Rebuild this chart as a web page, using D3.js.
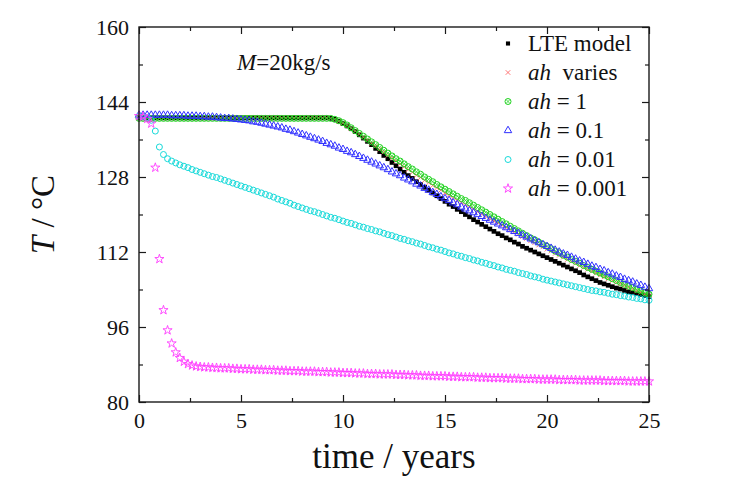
<!DOCTYPE html>
<html>
<head>
<meta charset="utf-8">
<script src="https://cdn.jsdelivr.net/npm/d3@7"></script>
<style>
  html, body { margin: 0; padding: 0; background: #fff; }
  svg { display: block; font-family: "Times New Roman", "Liberation Serif", serif; }
</style>
</head>
<body>
<svg id="chart" width="739" height="484"></svg>
<script>
// Sampling times (years)
const years = [
  0, 0.2, 0.4, 0.6, 0.8, 1, 1.2, 1.4, 1.6, 1.8,
  2, 2.2, 2.4, 2.6, 2.8, 3, 3.2, 3.4, 3.6, 3.8,
  4, 4.2, 4.4, 4.6, 4.8, 5, 5.2, 5.4, 5.6, 5.8,
  6, 6.2, 6.4, 6.6, 6.8, 7, 7.2, 7.4, 7.6, 7.8,
  8, 8.2, 8.4, 8.6, 8.8, 9, 9.2, 9.4, 9.6, 9.8,
  10, 10.2, 10.4, 10.6, 10.8, 11, 11.2, 11.4, 11.6, 11.8,
  12, 12.2, 12.4, 12.6, 12.8, 13, 13.2, 13.4, 13.6, 13.8,
  14, 14.2, 14.4, 14.6, 14.8, 15, 15.2, 15.4, 15.6, 15.8,
  16, 16.2, 16.4, 16.6, 16.8, 17, 17.2, 17.4, 17.6, 17.8,
  18, 18.2, 18.4, 18.6, 18.8, 19, 19.2, 19.4, 19.6, 19.8,
  20, 20.2, 20.4, 20.6, 20.8, 21, 21.2, 21.4, 21.6, 21.8,
  22, 22.2, 22.4, 22.6, 22.8, 23, 23.2, 23.4, 23.6, 23.8,
  24, 24.2, 24.4, 24.6, 24.8, 25
];

// Outlet temperature (°C), LTE model
const tLTE = [
  140.6, 140.6, 140.6, 140.6, 140.6, 140.6, 140.6, 140.6, 140.6, 140.6,
  140.6, 140.6, 140.6, 140.6, 140.6, 140.6, 140.6, 140.6, 140.6, 140.6,
  140.6, 140.6, 140.6, 140.6, 140.6, 140.6, 140.6, 140.6, 140.6, 140.6,
  140.6, 140.6, 140.6, 140.6, 140.6, 140.6, 140.6, 140.6, 140.6, 140.6,
  140.6, 140.6, 140.6, 140.6, 140.6, 140.6, 140.6, 140.5, 140.3, 139.9,
  139.4, 138.9, 138.3, 137.7, 137.0, 136.3, 135.6, 134.9, 134.1, 133.4,
  132.6, 131.9, 131.1, 130.4, 129.7, 129.0, 128.3, 127.7, 127.0, 126.4,
  125.8, 125.2, 124.6, 124.0, 123.4, 122.8, 122.2, 121.7, 121.1, 120.6,
  120.0, 119.5, 118.9, 118.4, 117.9, 117.4, 116.9, 116.4, 115.9, 115.5,
  115.0, 114.6, 114.1, 113.7, 113.2, 112.8, 112.4, 112.0, 111.6, 111.2,
  110.8, 110.4, 110.0, 109.6, 109.2, 108.8, 108.4, 108.0, 107.6, 107.1,
  106.7, 106.3, 105.9, 105.5, 105.2, 104.9, 104.6, 104.3, 104.1, 103.8,
  103.5, 103.3, 103.1, 102.9, 102.7, 102.5
];

// ah varies
const tVaries = [
  140.6, 140.6, 140.6, 140.6, 140.6, 140.6, 140.6, 140.6, 140.6, 140.6,
  140.6, 140.6, 140.6, 140.6, 140.6, 140.6, 140.6, 140.6, 140.6, 140.6,
  140.6, 140.6, 140.6, 140.6, 140.6, 140.6, 140.6, 140.6, 140.6, 140.6,
  140.6, 140.6, 140.6, 140.6, 140.6, 140.6, 140.6, 140.6, 140.6, 140.6,
  140.6, 140.6, 140.6, 140.6, 140.6, 140.6, 140.6, 140.5, 140.3, 139.9,
  139.5, 139.0, 138.4, 137.8, 137.2, 136.5, 135.9, 135.2, 134.6, 133.9,
  133.3, 132.6, 132.0, 131.4, 130.8, 130.2, 129.6, 129.0, 128.4, 127.9,
  127.3, 126.8, 126.2, 125.7, 125.2, 124.6, 124.1, 123.6, 123.1, 122.6,
  122.1, 121.6, 121.1, 120.6, 120.1, 119.6, 119.1, 118.6, 118.2, 117.7,
  117.2, 116.7, 116.3, 115.8, 115.3, 114.9, 114.4, 114.0, 113.5, 113.1,
  112.6, 112.2, 111.7, 111.3, 110.9, 110.4, 110.0, 109.6, 109.1, 108.7,
  108.3, 107.9, 107.5, 107.1, 106.7, 106.3, 105.9, 105.5, 105.2, 104.8,
  104.4, 104.1, 103.7, 103.4, 103.0, 102.7
];

// ah = 1
const tAh1 = [
  140.5, 140.5, 140.5, 140.5, 140.5, 140.5, 140.5, 140.5, 140.5, 140.5,
  140.5, 140.5, 140.5, 140.5, 140.5, 140.5, 140.5, 140.5, 140.5, 140.5,
  140.5, 140.5, 140.5, 140.5, 140.5, 140.5, 140.5, 140.5, 140.5, 140.5,
  140.5, 140.5, 140.5, 140.5, 140.5, 140.5, 140.5, 140.5, 140.5, 140.5,
  140.5, 140.5, 140.5, 140.5, 140.5, 140.5, 140.5, 140.5, 140.3, 140.0,
  139.6, 139.1, 138.5, 137.9, 137.3, 136.7, 136.1, 135.5, 134.9, 134.3,
  133.7, 133.1, 132.5, 131.9, 131.4, 130.8, 130.2, 129.7, 129.1, 128.6,
  128.0, 127.5, 127.0, 126.4, 125.9, 125.4, 124.9, 124.4, 123.9, 123.4,
  123.0, 122.5, 122.0, 121.5, 121.0, 120.5, 120.0, 119.5, 119.0, 118.5,
  118.0, 117.5, 117.0, 116.5, 116.0, 115.5, 115.0, 114.6, 114.1, 113.6,
  113.2, 112.7, 112.2, 111.8, 111.3, 110.9, 110.4, 110.0, 109.6, 109.1,
  108.7, 108.3, 107.9, 107.5, 107.1, 106.7, 106.3, 105.9, 105.5, 105.1,
  104.7, 104.4, 104.0, 103.7, 103.3, 103.0
];

// ah = 0.1
const tAh01 = [
  141.2, 141.2, 141.2, 141.2, 141.2, 141.2, 141.2, 141.2, 141.1, 141.1,
  141.1, 141.1, 141.0, 141.0, 141.0, 140.9, 140.9, 140.8, 140.8, 140.7,
  140.6, 140.5, 140.5, 140.4, 140.3, 140.2, 140.1, 140.0, 139.8, 139.7,
  139.5, 139.3, 139.1, 138.9, 138.7, 138.5, 138.2, 138.0, 137.7, 137.4,
  137.1, 136.8, 136.5, 136.2, 135.9, 135.6, 135.2, 134.9, 134.6, 134.2,
  133.9, 133.5, 133.2, 132.8, 132.4, 132.0, 131.6, 131.2, 130.8, 130.4,
  130.0, 129.6, 129.1, 128.7, 128.3, 127.8, 127.4, 127.0, 126.5, 126.1,
  125.6, 125.2, 124.7, 124.3, 123.8, 123.4, 123.0, 122.5, 122.1, 121.6,
  121.2, 120.8, 120.4, 120.0, 119.6, 119.2, 118.8, 118.4, 118.0, 117.6,
  117.2, 116.8, 116.4, 116.0, 115.6, 115.2, 114.8, 114.4, 114.0, 113.6,
  113.2, 112.8, 112.4, 112.0, 111.6, 111.3, 110.9, 110.5, 110.1, 109.8,
  109.4, 109.0, 108.7, 108.3, 108.0, 107.6, 107.3, 106.9, 106.6, 106.2,
  105.9, 105.6, 105.2, 104.9, 104.5, 104.2
];

// ah = 0.01
const tAh001 = [
  141.0, 140.9, 140.7, 140.1, 137.8, 134.4, 132.8, 131.9, 131.4, 131.0,
  130.6, 130.3, 130.0, 129.6, 129.3, 129.0, 128.7, 128.4, 128.1, 127.9,
  127.6, 127.3, 127.0, 126.7, 126.4, 126.1, 125.8, 125.5, 125.2, 124.9,
  124.6, 124.3, 124.0, 123.7, 123.3, 123.0, 122.7, 122.4, 122.0, 121.7,
  121.4, 121.1, 120.8, 120.6, 120.3, 120.0, 119.7, 119.4, 119.2, 118.9,
  118.6, 118.3, 118.1, 117.8, 117.5, 117.3, 117.0, 116.8, 116.5, 116.3,
  116.0, 115.7, 115.5, 115.2, 114.9, 114.7, 114.4, 114.2, 113.9, 113.7,
  113.4, 113.1, 112.9, 112.6, 112.4, 112.1, 111.8, 111.6, 111.3, 111.1,
  110.8, 110.6, 110.3, 110.1, 109.8, 109.6, 109.3, 109.1, 108.8, 108.6,
  108.3, 108.1, 107.9, 107.6, 107.4, 107.2, 106.9, 106.7, 106.5, 106.2,
  106.0, 105.8, 105.6, 105.4, 105.2, 105.0, 104.8, 104.6, 104.4, 104.2,
  104.0, 103.8, 103.7, 103.5, 103.4, 103.2, 103.0, 102.9, 102.7, 102.6,
  102.4, 102.3, 102.1, 102.0, 101.8, 101.7
];

// ah = 0.001
const tAh0001 = [
  141.0, 140.9, 140.4, 139.4, 130.0, 110.5, 99.6, 95.3, 92.5, 90.6,
  89.4, 88.6, 88.1, 87.8, 87.6, 87.5, 87.4, 87.4, 87.3, 87.3,
  87.2, 87.2, 87.2, 87.1, 87.1, 87.0, 87.0, 87.0, 86.9, 86.9,
  86.9, 86.8, 86.8, 86.8, 86.7, 86.7, 86.7, 86.6, 86.6, 86.6,
  86.5, 86.5, 86.5, 86.5, 86.4, 86.4, 86.4, 86.3, 86.3, 86.3,
  86.2, 86.2, 86.2, 86.1, 86.1, 86.1, 86.0, 86.0, 86.0, 85.9,
  85.9, 85.9, 85.9, 85.8, 85.8, 85.8, 85.7, 85.7, 85.7, 85.6,
  85.6, 85.6, 85.5, 85.5, 85.5, 85.5, 85.4, 85.4, 85.4, 85.3,
  85.3, 85.3, 85.3, 85.2, 85.2, 85.2, 85.1, 85.1, 85.1, 85.1,
  85.0, 85.0, 85.0, 85.0, 84.9, 84.9, 84.9, 84.9, 84.8, 84.8,
  84.8, 84.8, 84.8, 84.7, 84.7, 84.7, 84.7, 84.7, 84.6, 84.6,
  84.6, 84.6, 84.6, 84.6, 84.5, 84.5, 84.5, 84.5, 84.5, 84.5,
  84.4, 84.4, 84.4, 84.4, 84.4, 84.4
];

const xMajorTicks = [0, 5, 10, 15, 20, 25];
const xMinorTicks = [2.5, 7.5, 12.5, 17.5, 22.5];
const yMajorTicks = [80, 96, 112, 128, 144, 160];
const yMinorTicks = [88, 104, 120, 136, 152];

const seriesList = [
  { key: "lte",    label: [["LTE model", false]],              values: tLTE,    shape: "square",   color: "#000000" },
  { key: "varies", label: [["ah", true], ["  varies", false]], values: tVaries, shape: "cross",    color: "#ff6a6a" },
  { key: "ah1",    label: [["ah", true], [" = 1", false]],     values: tAh1,    shape: "xcircle",  color: "#22d422" },
  { key: "ah01",   label: [["ah", true], [" = 0.1", false]],   values: tAh01,   shape: "triangle", color: "#3030ff" },
  { key: "ah001",  label: [["ah", true], [" = 0.01", false]],  values: tAh001,  shape: "circle",   color: "#18dada" },
  { key: "ah0001", label: [["ah", true], [" = 0.001", false]], values: tAh0001, shape: "star",     color: "#ff3cff" }
];

const svg = d3.select("#chart");
const frameColor = "#1a1a1a";

const x = d3.scaleLinear().domain([0, 25]).range([139, 649]);
const y = d3.scaleLinear().domain([80, 160]).range([402, 27]);

// Marker shapes
const symTri = d3.symbol(d3.symbolTriangle, 24)();
const symStar = d3.symbol(d3.symbolStar, 26)();
const symSquare = d3.symbol(d3.symbolSquare, 22)();
const symSquareKey = d3.symbol(d3.symbolSquare, 17)();

function drawMarker(sel, shape, color, isKey) {
  if (shape === "square") {
    sel.append("path").attr("d", isKey ? symSquareKey : symSquare).attr("fill", color);
  } else if (shape === "cross") {
    sel.append("path").attr("d", "M-2.3,-2.3L2.3,2.3M-2.3,2.3L2.3,-2.3")
      .attr("stroke", color).attr("stroke-width", 0.9).attr("fill", "none");
  } else if (shape === "xcircle") {
    sel.append("circle").attr("r", 3).attr("fill", "none")
      .attr("stroke", color).attr("stroke-width", 1);
    sel.append("path").attr("d", "M-2.1,-2.1L2.1,2.1M-2.1,2.1L2.1,-2.1")
      .attr("stroke", color).attr("stroke-width", 0.8).attr("fill", "none");
  } else if (shape === "triangle") {
    sel.append("path").attr("d", symTri).attr("fill", "none")
      .attr("stroke", color).attr("stroke-width", 1);
  } else if (shape === "circle") {
    sel.append("circle").attr("r", 3).attr("fill", "none")
      .attr("stroke", color).attr("stroke-width", 1);
  } else if (shape === "star") {
    sel.append("path").attr("d", symStar).attr("fill", "none")
      .attr("stroke", color).attr("stroke-width", 0.9);
  }
}

// Data series
const plot = svg.append("g").attr("class", "series");
seriesList.forEach(s => {
  const pts = years.map((t, i) => ({ t, v: s.values[i] }));
  const g = plot.append("g").attr("class", "series-" + s.key);
  g.selectAll("g.pt").data(pts).join("g")
    .attr("class", "pt")
    .attr("transform", d => `translate(${x(d.t)},${y(d.v)})`)
    .each(function () { drawMarker(d3.select(this), s.shape, s.color, false); });
});

// Axes: ticks point inward on all four sides
function styleAxis(g) {
  g.attr("font-family", null).attr("font-size", null).attr("color", frameColor);
  g.selectAll(".domain").remove();
  g.selectAll("line").attr("stroke-width", 1.2);
  g.selectAll("text").attr("font-size", 22).attr("fill", "#111");
}

svg.append("g").attr("transform", "translate(0,402)")
  .call(d3.axisBottom(x).tickValues(xMajorTicks).tickSize(-7).tickPadding(10).tickFormat(d3.format("d")))
  .call(styleAxis);
svg.append("g").attr("transform", "translate(0,402)")
  .call(d3.axisBottom(x).tickValues(xMinorTicks).tickSize(-4).tickFormat(""))
  .call(styleAxis);
svg.append("g").attr("transform", "translate(0,27)")
  .call(d3.axisTop(x).tickValues(xMajorTicks).tickSize(-7).tickFormat(""))
  .call(styleAxis);
svg.append("g").attr("transform", "translate(0,27)")
  .call(d3.axisTop(x).tickValues(xMinorTicks).tickSize(-4).tickFormat(""))
  .call(styleAxis);

svg.append("g").attr("transform", "translate(139,0)")
  .call(d3.axisLeft(y).tickValues(yMajorTicks).tickSize(-7).tickPadding(10).tickFormat(d3.format("d")))
  .call(styleAxis);
svg.append("g").attr("transform", "translate(139,0)")
  .call(d3.axisLeft(y).tickValues(yMinorTicks).tickSize(-4).tickFormat(""))
  .call(styleAxis);
svg.append("g").attr("transform", "translate(649,0)")
  .call(d3.axisRight(y).tickValues(yMajorTicks).tickSize(-7).tickFormat(""))
  .call(styleAxis);
svg.append("g").attr("transform", "translate(649,0)")
  .call(d3.axisRight(y).tickValues(yMinorTicks).tickSize(-4).tickFormat(""))
  .call(styleAxis);

// Frame
svg.append("rect")
  .attr("x", x(0)).attr("y", y(160))
  .attr("width", x(25) - x(0)).attr("height", y(80) - y(160))
  .attr("fill", "none").attr("stroke", frameColor).attr("stroke-width", 1.4);

// Axis titles
svg.append("text")
  .attr("x", (x(0) + x(25)) / 2).attr("y", 468)
  .attr("text-anchor", "middle").attr("font-size", 35).attr("fill", "#111")
  .text("time / years");

const yTitle = svg.append("text")
  .attr("transform", `translate(54,${(y(80) + y(160)) / 2}) rotate(-90)`)
  .attr("text-anchor", "middle").attr("font-size", 33).attr("fill", "#111");
yTitle.append("tspan").attr("font-style", "italic").text("T");
yTitle.append("tspan").text(" / °C");

// Flow-rate annotation
const ann = svg.append("text").attr("x", 237).attr("y", 70)
  .attr("font-size", 23).attr("fill", "#111");
ann.append("tspan").attr("font-style", "italic").text("M");
ann.append("tspan").text("=20kg/s");

// Legend
const legend = svg.append("g").attr("class", "legend");
seriesList.forEach((s, i) => {
  const base = 51 + i * 29;
  const row = legend.append("g");
  const m = row.append("g").attr("transform", `translate(508,${base - 7.5})`);
  drawMarker(m, s.shape, s.color, true);
  const txt = row.append("text").attr("x", 528).attr("y", base)
    .attr("font-size", 23).attr("fill", "#111").attr("xml:space", "preserve")
    .style("white-space", "pre");
  s.label.forEach(([str, it]) => {
    txt.append("tspan").attr("font-style", it ? "italic" : null).text(str);
  });
});
</script>
</body>
</html>
